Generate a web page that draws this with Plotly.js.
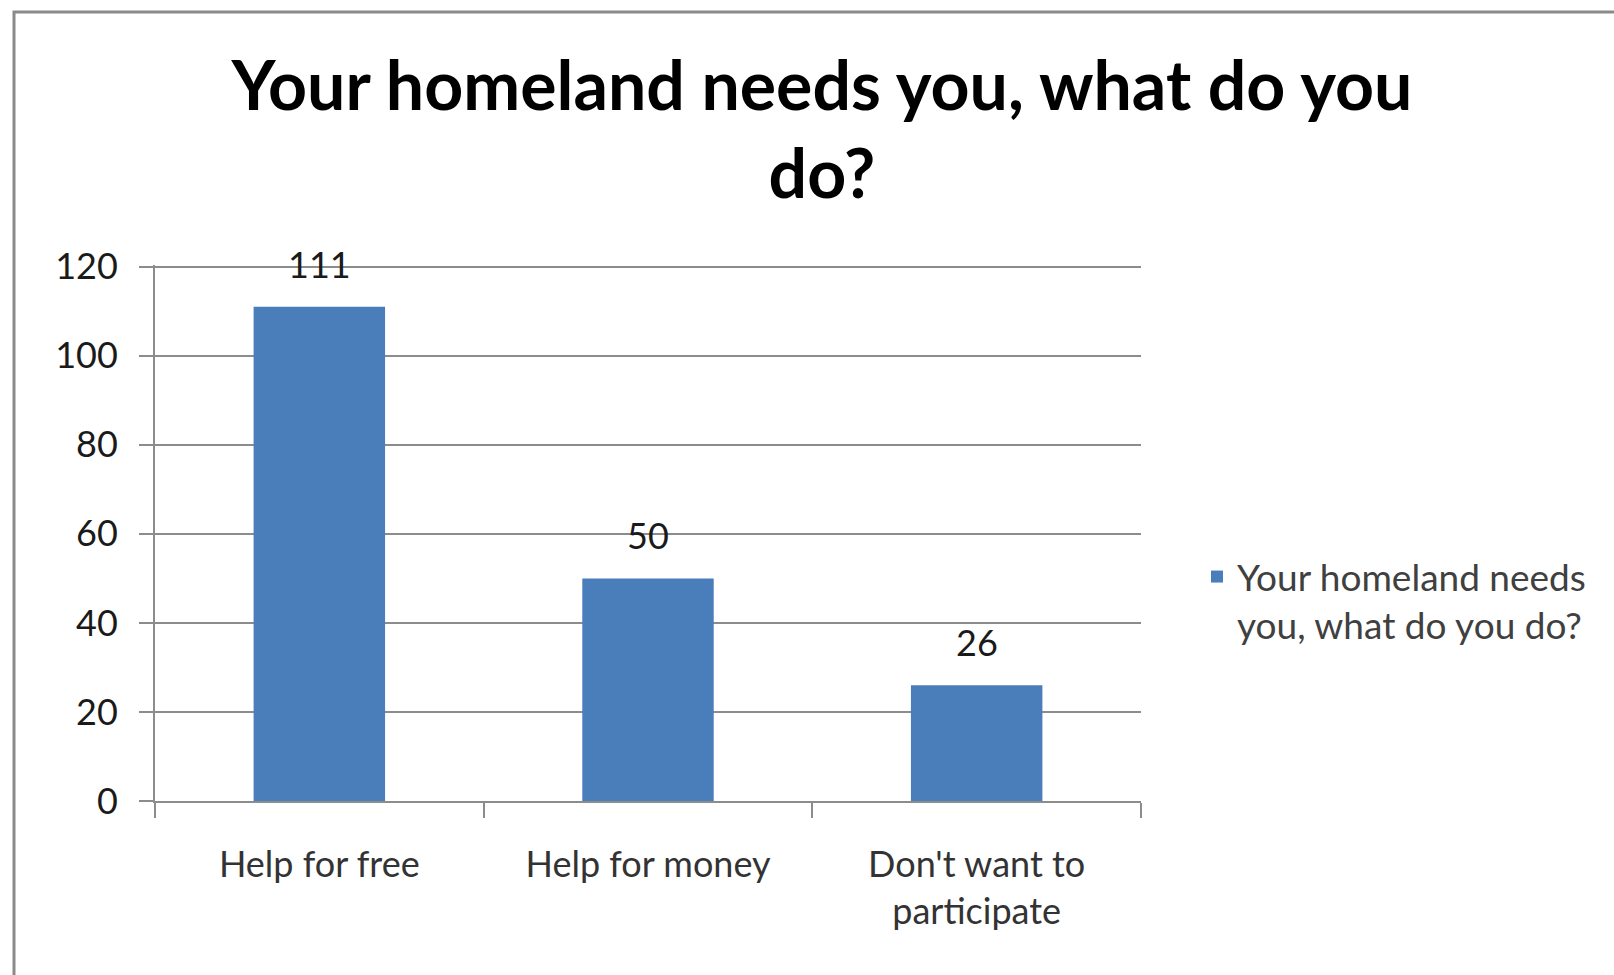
<!DOCTYPE html>
<html>
<head>
<meta charset="utf-8">
<script src="https://cdn.plot.ly/plotly-3.0.1.min.js"></script>
<style>
html,body{margin:0;padding:0;background:#fff;}
#chart{width:1614px;height:975px;}
</style>
</head>
<body>
<div id="chart"></div>
<script>
var categories = ["Help for free", "Help for money", "Don't want to<br>participate"];
var values = [111, 50, 26];
var seriesName = "Your homeland needs<br>you, what do you do?";
var titleText = "Your homeland needs you, what do you<br>do?";
var yTickVals = [0, 20, 40, 60, 80, 100, 120];

var W = 1614, H = 975;
var M = {l: 155, r: 473, t: 265, b: 174};
var pw = W - M.l - M.r, ph = H - M.t - M.b;
function px2x(px){ return (px - M.l) / pw; }
function px2y(py){ return (H - M.b - py) / ph; }

var font = "Lato, 'Open Sans', sans-serif";

var trace = {
  type: 'bar',
  x: categories,
  y: values,
  name: seriesName,
  marker: {color: '#4a7ebb'},
  showlegend: true,
  hoverinfo: 'x+y'
};

var annotations = values.map(function(v, i){
  return {
    x: categories[i], y: v, xref: 'x', yref: 'y',
    text: String(v), showarrow: false,
    yanchor: 'bottom', yshift: 19,
    font: {family: font, size: 36, color: '#1a1a1a'}
  };
});

var layout = {
  width: W, height: H,
  margin: M,
  paper_bgcolor: '#ffffff',
  plot_bgcolor: '#ffffff',
  bargap: 0.6,
  title: {
    text: titleText,
    font: {family: font, size: 68, color: '#000000', weight: 'bold'},
    x: 822 / W, xref: 'container', xanchor: 'center',
    y: 1 - 110 / H, yref: 'container', yanchor: 'top'
  },
  xaxis: {
    type: 'category',
    showgrid: false,
    showline: true, linecolor: '#8c8c8c', linewidth: 2,
    ticks: 'outside', tickson: 'boundaries', ticklen: 15, tickcolor: '#8c8c8c', tickwidth: 2,
    ticklabelstandoff: 31,
    tickfont: {family: font, size: 36, color: '#333333'},
    zeroline: false,
    fixedrange: true
  },
  yaxis: {
    range: [0, 120.4],
    tickvals: yTickVals,
    showgrid: true, gridcolor: '#8c8c8c', gridwidth: 2,
    showline: true, linecolor: '#8c8c8c', linewidth: 2,
    ticks: 'outside', ticklen: 14, tickcolor: '#8c8c8c', tickwidth: 2,
    ticklabelstandoff: 14,
    tickfont: {family: font, size: 36, color: '#1a1a1a'},
    zeroline: false,
    fixedrange: true
  },
  legend: {
    x: px2x(1197), xanchor: 'left',
    y: px2y(546), yanchor: 'top',
    valign: 'top',
    font: {family: font, size: 37, color: '#404040'},
    bgcolor: 'rgba(0,0,0,0)'
  },
  annotations: annotations,
  shapes: [{
    type: 'rect', xref: 'paper', yref: 'paper',
    x0: px2x(14), x1: px2x(1640),
    y0: px2y(1000), y1: px2y(12),
    line: {color: '#8a8a8a', width: 3},
    fillcolor: 'rgba(0,0,0,0)',
    layer: 'below'
  }]
};

Plotly.newPlot('chart', [trace], layout, {displayModeBar: false, staticPlot: true});
</script>
</body>
</html>
